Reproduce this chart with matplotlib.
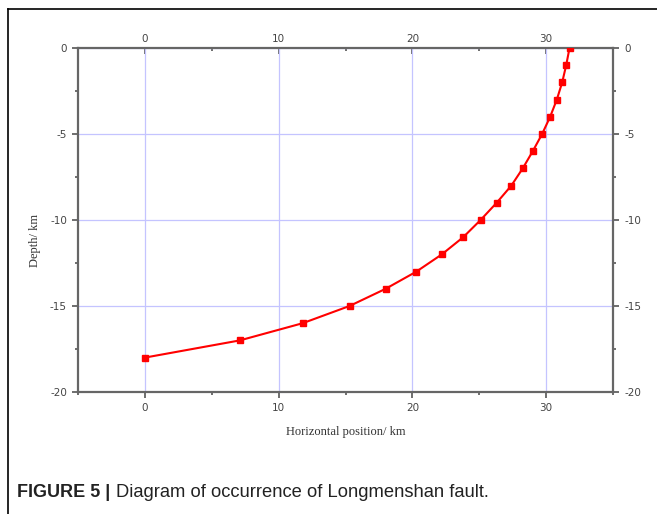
import matplotlib.pyplot as plt
from matplotlib.lines import Line2D

plt.rcParams["axes.unicode_minus"] = False

# fault trace
horizontal_km = [0.0, 7.1, 11.8, 15.3, 18.0, 20.3, 22.2, 23.8, 25.1, 26.3,
                 27.4, 28.25, 29.0, 29.7, 30.3, 30.8, 31.2, 31.5, 31.75]
depth_km = [-18, -17, -16, -15, -14, -13, -12, -11, -10, -9,
            -8, -7, -6, -5, -4, -3, -2, -1, 0]

x_major = [0, 10, 20, 30]
x_minor = [-5, 5, 15, 25, 35]
y_major = [0, -5, -10, -15, -20]
y_minor = [-2.5, -7.5, -12.5, -17.5]

fig = plt.figure(figsize=(6.57, 5.14), dpi=100)
ax = fig.add_axes([78 / 657, 1 - 392 / 514, 535 / 657, 344 / 514])

ax.plot(horizontal_km, depth_km, color="#ff0000", lw=1.5, marker="s",
        markersize=5, zorder=3)

ax.set_xlim(-5, 35)
ax.set_ylim(-20, 0)
ax.set_xticks(x_major)
ax.set_xticks(x_minor, minor=True)
ax.set_yticks(y_major)
ax.set_yticks(y_minor, minor=True)

ax.grid(True, which="major", color="#c4c4ff", lw=0.9)
ax.set_axisbelow(True)

for s in ax.spines.values():
    s.set_color("#666666")
    s.set_linewidth(1.6)

ax.tick_params(which="both", direction="out", colors="#555555",
               top=False, right=True, labelright=True,
               labelsize=7.5, labelcolor="#444444")
ax.tick_params(which="major", length=4, width=1.2, pad=4)
ax.tick_params(which="minor", length=2.5, width=1.2)

# top axis, ticks pointing into the frame
top = ax.secondary_xaxis("top")
top.set_xticks(x_major)
top.set_xticks(x_minor, minor=True)
top.spines["top"].set_visible(False)
top.tick_params(which="both", direction="in", colors="#555555",
                labelsize=7.5, labelcolor="#444444")
top.tick_params(which="major", length=4, width=1.2, pad=3)
top.tick_params(which="minor", length=2.5, width=1.2)

ax.set_xlabel("Horizontal position/ km", family="Liberation Serif",
              fontsize=9, color="#333333")
ax.set_ylabel("Depth/ km", family="Liberation Serif", fontsize=9,
              color="#333333")
ax.xaxis.set_label_coords(0.5, -0.10)
ax.yaxis.set_label_coords(-0.07, 0.44)

# page frame (top and left edges visible in the crop)
fig.add_artist(Line2D([8 / 657, 1.0], [1 - 9 / 514, 1 - 9 / 514],
                      color="black", lw=1.2, transform=fig.transFigure))
fig.add_artist(Line2D([8 / 657, 8 / 657], [0.0, 1 - 9 / 514],
                      color="black", lw=1.2, transform=fig.transFigure))

# caption
t = fig.text(17 / 657, 1 - 497 / 514, "FIGURE 5 |", fontsize=13,
             fontweight="bold", family="Liberation Sans",
             color="#222222", va="baseline")
fig.canvas.draw()
bb = t.get_window_extent()
fig.text(bb.x1 / 657 + 0.008, 1 - 497 / 514,
         "Diagram of occurrence of Longmenshan fault.", fontsize=13.2,
         family="Liberation Sans", color="#222222", va="baseline")

fig.savefig("out.png", dpi=100)
